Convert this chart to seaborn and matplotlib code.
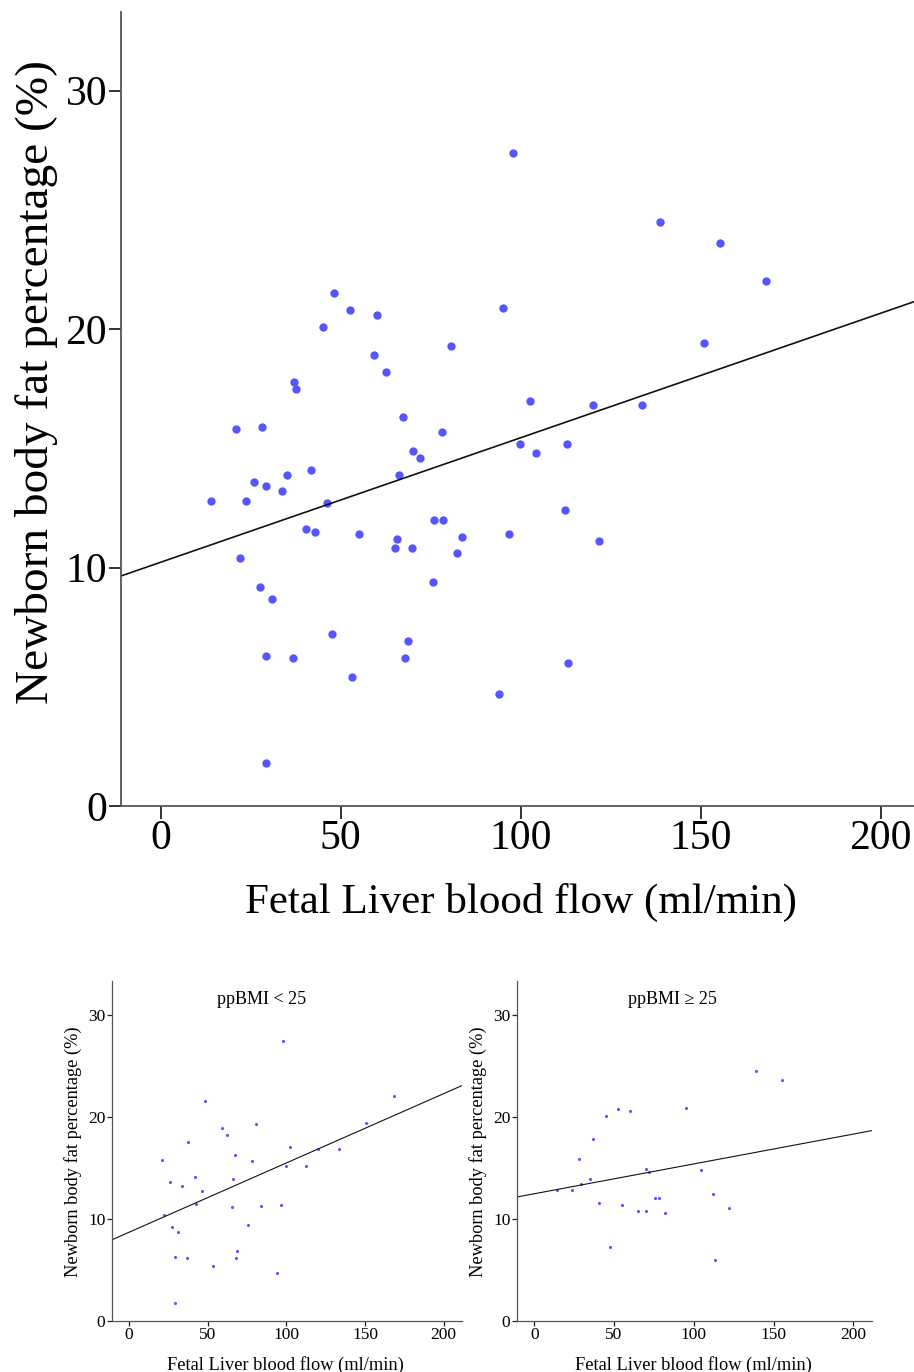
import numpy as np
import pandas as pd
import matplotlib
matplotlib.use("Agg")
import matplotlib.pyplot as plt
import seaborn as sns

# ---- data (flow in ml/min, fat in %) ----
low_flow = [97.9, 48.2, 168.2, 59.4, 62.6, 80.8, 150.9, 37.5, 21.0, 67.3,
            78.2, 102.5, 120.2, 133.6, 99.7, 112.8, 25.9, 33.7, 41.8, 66.1,
            46.3, 42.9, 22.0, 65.6, 83.8, 96.9, 27.5, 31.0, 75.6, 68.6,
            29.3, 36.9, 67.9, 53.1, 94.1, 29.3]
low_fat = [27.4, 21.5, 22.0, 18.9, 18.2, 19.3, 19.4, 17.5, 15.8, 16.3,
           15.7, 17.0, 16.8, 16.8, 15.2, 15.2, 13.6, 13.2, 14.1, 13.9,
           12.7, 11.5, 10.4, 11.2, 11.3, 11.4, 9.2, 8.7, 9.4, 6.9,
           6.3, 6.2, 6.2, 5.4, 4.7, 1.8]

high_flow = [138.8, 155.3, 95.2, 52.7, 60.0, 45.2, 37.1, 28.1, 14.1, 23.6,
             29.2, 35.0, 40.4, 55.2, 70.0, 72.1, 65.2, 69.9, 75.9, 78.4,
             82.2, 104.4, 112.3, 121.9, 47.7, 113.3]
high_fat = [24.5, 23.6, 20.9, 20.8, 20.6, 20.1, 17.8, 15.9, 12.8, 12.8,
            13.4, 13.9, 11.6, 11.4, 14.9, 14.6, 10.8, 10.8, 12.0, 12.0,
            10.6, 14.8, 12.4, 11.1, 7.2, 6.0]

groups = ["ppBMI < 25", "ppBMI \u2265 25"]
x_ticks = [0, 50, 100, 150, 200]
y_ticks = [0, 10, 20, 30]
x_label = "Fetal Liver blood flow (ml/min)"
y_label = "Newborn body fat percentage (%)"

df = pd.DataFrame({
    "flow": low_flow + high_flow,
    "fat": low_fat + high_fat,
    "group": [groups[0]] * len(low_flow) + [groups[1]] * len(high_flow),
})

sns.set_style("ticks")
plt.rcParams["font.family"] = ["Liberation Serif", "DejaVu Serif"]
plt.rcParams["text.color"] = "black"
plt.rcParams["axes.labelcolor"] = "black"
plt.rcParams["xtick.color"] = "black"
plt.rcParams["ytick.color"] = "black"

DOT = "#5656ff"
XLIM = (-11, 211.5)
YLIM = (0, 33.3)

W, H = 914, 1372
fig = plt.figure(figsize=(W / 100, H / 100), dpi=100)


def px_axes(left, right, top, bottom):
    return fig.add_axes([left / W, 1 - bottom / H, (right - left) / W, (bottom - top) / H])


def draw(ax, data, dot_size, line_w, tick_fs, xlab_fs, ylab_fs, tick_len, spine_w):
    ax.set_xlim(XLIM)
    ax.set_ylim(YLIM)
    sns.regplot(data=data, x="flow", y="fat", ax=ax, ci=None, truncate=False,
                scatter_kws=dict(s=dot_size, color=DOT, linewidths=0, alpha=1),
                line_kws=dict(color="#111111", lw=line_w))
    ax.set_xlim(XLIM)
    ax.set_ylim(YLIM)
    ax.set_xticks(x_ticks)
    ax.set_yticks(y_ticks)
    ax.tick_params(axis="both", labelsize=tick_fs, length=tick_len, width=spine_w,
                   color="#222222", pad=1)
    ax.set_xlabel(x_label, fontsize=xlab_fs)
    ax.set_ylabel(y_label, fontsize=ylab_fs)
    for side in ["top", "right"]:
        ax.spines[side].set_visible(False)
    for side in ["left", "bottom"]:
        ax.spines[side].set_linewidth(spine_w)
        ax.spines[side].set_color("#555555")


# main panel
ax_top = px_axes(121, 922, 12, 806)
draw(ax_top, df, 36, 1.2, 30, 31, 34, 9, 1.3)
ax_top.yaxis.set_label_coords(-0.079, 0.534)
ax_top.xaxis.set_label_coords(0.4994, -0.097)

# split panels
boxes = [(111.7, 461.7), (516.7, 871.7)]
title_x = [0.4294, 0.4375]
for i, g in enumerate(groups):
    left, right = boxes[i]
    ax = px_axes(left, right, 981, 1321)
    draw(ax, df[df["group"] == g], 5, 0.8, 12.5, 13.2, 13.2, 3.5, 0.9)
    ax.yaxis.set_label_coords(-0.085, 0.498)
    ax.xaxis.set_label_coords(0.497, -0.104)
    ax.text(title_x[i], 0.947, g, transform=ax.transAxes, ha="center", va="center",
            fontsize=13)

fig.savefig("out.png", dpi=100)
